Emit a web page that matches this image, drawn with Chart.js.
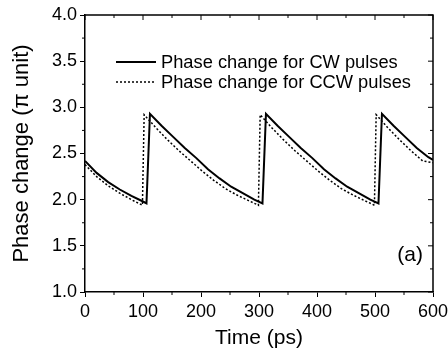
<!DOCTYPE html>
<html>
<head>
<meta charset="utf-8">
<script src="https://cdn.jsdelivr.net/npm/chart.js@4.4.1/dist/chart.umd.min.js"></script>
<style>
  html, body { margin: 0; padding: 0; background: #fff; }
  #wrap { width: 448px; height: 351px; }
</style>
</head>
<body>
<div id="wrap"><canvas id="c" width="448" height="351"></canvas></div>
<script>
// Time samples (ps) and phase change (in units of pi) for the clockwise pulses
const cwTime = [0, 20, 40, 60, 80, 100, 106,
  112, 132, 152, 172, 192, 212, 232, 252, 272, 292, 306,
  312, 332, 352, 372, 392, 412, 432, 452, 472, 492, 506,
  512, 532, 552, 572, 592, 600];
const cwPhase = [2.42, 2.29, 2.19, 2.11, 2.04, 1.98, 1.96,
  2.93, 2.80, 2.68, 2.56, 2.45, 2.33, 2.23, 2.14, 2.07, 2.00, 1.96,
  2.93, 2.80, 2.68, 2.56, 2.45, 2.33, 2.23, 2.14, 2.07, 2.00, 1.96,
  2.93, 2.80, 2.68, 2.56, 2.46, 2.43];

// Same quantity for the counter-clockwise pulses
const ccwTime = [0, 20, 40, 60, 80, 99, 102,
  122, 142, 162, 182, 202, 222, 242, 262, 282, 299, 302,
  322, 342, 362, 382, 402, 422, 442, 462, 482, 499, 502,
  522, 542, 562, 582, 600];
const ccwPhase = [2.38, 2.25, 2.15, 2.07, 2.00, 1.94, 2.92,
  2.78, 2.65, 2.53, 2.42, 2.31, 2.21, 2.12, 2.05, 1.99, 1.94, 2.92,
  2.78, 2.65, 2.53, 2.42, 2.31, 2.21, 2.12, 2.05, 1.99, 1.94, 2.92,
  2.78, 2.65, 2.53, 2.42, 2.40];

const seriesLabels = ['Phase change for CW pulses', 'Phase change for CCW pulses'];
const xTicks = [0, 100, 200, 300, 400, 500, 600];
const yTicks = [1.0, 1.5, 2.0, 2.5, 3.0, 3.5, 4.0];
const panelTag = '(a)';

const FONT = '"Liberation Sans", Arial, Helvetica, sans-serif';
const toXY = (xs, ys) => xs.map((x, i) => ({ x: x, y: ys[i] }));

// Frame, inward ticks on top/right, minor ticks, legend and panel tag
const decorations = {
  id: 'decorations',
  afterDraw(chart) {
    const { ctx, chartArea: a, scales } = chart;
    const xs = scales.x, ys = scales.y;
    ctx.save();
    ctx.strokeStyle = '#000';
    ctx.lineWidth = 1.5;
    ctx.beginPath();
    ctx.moveTo(a.left, a.top); ctx.lineTo(a.right, a.top); ctx.lineTo(a.right, a.bottom);
    ctx.stroke();

    ctx.lineWidth = 1;
    ctx.beginPath();
    for (let v = 0; v <= 600; v += 50) {
      const px = xs.getPixelForValue(v);
      const major = v % 100 === 0;
      const len = major ? 5 : 3;
      ctx.moveTo(px, a.top); ctx.lineTo(px, a.top + len);
      if (!major) { ctx.moveTo(px, a.bottom); ctx.lineTo(px, a.bottom + len); }
    }
    for (let v = 1.0; v <= 4.0001; v += 0.25) {
      const py = ys.getPixelForValue(v);
      const major = Math.abs(v * 2 - Math.round(v * 2)) < 1e-6;
      const len = major ? 5 : 3;
      ctx.moveTo(a.right, py); ctx.lineTo(a.right - len, py);
      if (!major) { ctx.moveTo(a.left, py); ctx.lineTo(a.left - len, py); }
    }
    ctx.stroke();

    // legend
    ctx.font = '18.3px ' + FONT;
    ctx.fillStyle = '#000';
    ctx.textBaseline = 'middle';
    chart.data.datasets.forEach((ds, i) => {
      const y = 62 + i * 20;
      ctx.beginPath();
      ctx.lineWidth = ds.borderWidth;
      ctx.setLineDash(ds.borderDash || []);
      ctx.moveTo(116, y); ctx.lineTo(156, y);
      ctx.stroke();
      ctx.setLineDash([]);
      ctx.fillText(ds.label, 161, y + 1);
    });

    ctx.font = '21px ' + FONT;
    ctx.textAlign = 'right';
    ctx.fillText(panelTag, 423, 255);
    ctx.restore();
  }
};

new Chart(document.getElementById('c'), {
  type: 'scatter',
  data: {
    datasets: [
      {
        label: seriesLabels[0],
        data: toXY(cwTime, cwPhase),
        showLine: true,
        borderColor: '#000',
        borderWidth: 2,
        pointRadius: 0,
        tension: 0
      },
      {
        label: seriesLabels[1],
        data: toXY(ccwTime, ccwPhase),
        showLine: true,
        borderColor: '#000',
        borderWidth: 1.5,
        borderDash: [2, 2],
        pointRadius: 0,
        tension: 0
      }
    ]
  },
  options: {
    responsive: false,
    animation: false,
    layout: { padding: { top: 15, right: 15, left: 0, bottom: 0 } },
    plugins: { legend: { display: false }, tooltip: { enabled: false } },
    scales: {
      x: {
        type: 'linear',
        min: 0, max: 600,
        afterBuildTicks(s) { s.ticks = xTicks.map(v => ({ value: v })); },
        afterFit(s) { s.height = 59; s.paddingLeft = 0; s.paddingRight = 0; },
        grid: { drawOnChartArea: false, drawTicks: true, tickLength: 5, color: '#000', lineWidth: 1 },
        border: { display: true, color: '#000', width: 1.5 },
        ticks: { color: '#000', font: { family: FONT, size: 18 }, padding: 4, maxRotation: 0 },
        title: { display: true, text: 'Time (ps)', color: '#000', font: { family: FONT, size: 21 }, padding: { top: 4, bottom: 0 } }
      },
      y: {
        type: 'linear',
        min: 1.0, max: 4.0,
        afterBuildTicks(s) { s.ticks = yTicks.map(v => ({ value: v })); },
        afterFit(s) { s.width = 85; s.paddingTop = 0; s.paddingBottom = 0; },
        grid: { drawOnChartArea: false, drawTicks: true, tickLength: 5, color: '#000', lineWidth: 1 },
        border: { display: true, color: '#000', width: 1.5 },
        ticks: { color: '#000', font: { family: FONT, size: 18 }, padding: 3, callback: v => v.toFixed(1) },
        title: { display: true, text: 'Phase change (π unit)', color: '#000', font: { family: FONT, size: 22 }, padding: { top: 9, bottom: 4 } }
      }
    }
  },
  plugins: [decorations]
});
</script>
</body>
</html>
